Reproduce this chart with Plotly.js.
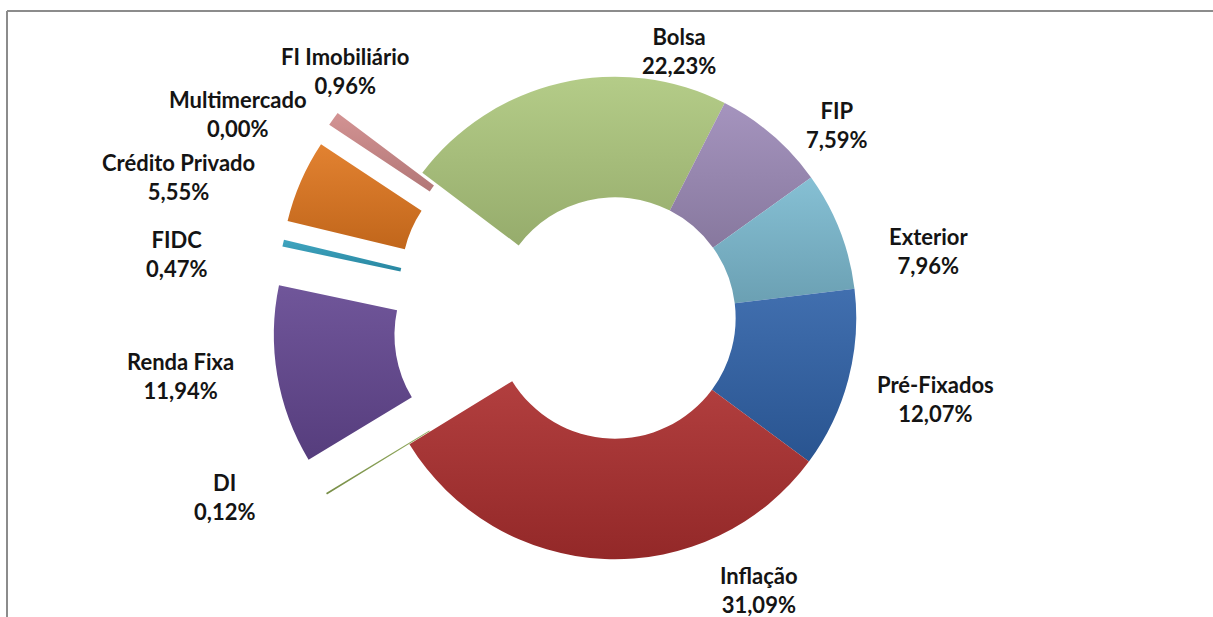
<!DOCTYPE html>
<html>
<head>
<meta charset="utf-8">
<script src="https://cdn.plot.ly/plotly-3.0.1.min.js"></script>
<style>
html,body{margin:0;padding:0;overflow:hidden;background:#fff;width:1213px;height:617px;}
#chart{position:absolute;left:0;top:-27px;width:1213px;height:690px;}
</style>
</head>
<body>
<div id="chart"></div>
<script>
// ---- data ----
const categories = ["Bolsa","FIP","Exterior","Pré-Fixados","Inflação","DI","Renda Fixa","FIDC","Crédito Privado","Multimercado","FI Imobiliário"];
const shares = [22.23, 7.59, 7.96, 12.07, 31.09, 0.12, 11.94, 0.47, 5.55, 0.00, 0.96];

// ---- styling / layout (not data) ----
const sliceColors = ["#AEC87E","#9D8BB8","#7CBAD0","#3062A8","#AB2E2E","#8BA552","#644791","#2F9DBB","#E0771F","#9BBB59","#CF8A8A"];
const explode = [0, 0, 0, 0, 0, 0.40, 0.42, 0.41, 0.42, 0.42, 0.43];
// label block centres in page pixels [x, y]
const labelPos = [[679,51],[836,125],[928,250.5],[935,399.5],[759,589.5],[225,496.5],[180,376.5],[176,253.5],[178,177],[238,114],[345,71]];

const W = 1213, H = 690, OFF = 27;
const cx = 615, half = H/2;

function fmt(v){ return v.toFixed(2).replace('.', ',') + '%'; }

const trace = {
  type: 'pie',
  labels: categories,
  values: shares,
  sort: false,
  direction: 'clockwise',
  rotation: -53,
  hole: 0.5,
  pull: explode,
  marker: {colors: sliceColors, line: {width: 0}},
  textinfo: 'none',
  hoverinfo: 'skip',
  showlegend: false,
  domain: {x: [(cx-half)/W, (cx+half)/W], y: [0, 1]}
};

const annotations = categories.map((c, i) => ({
  xref: 'paper', yref: 'paper',
  x: labelPos[i][0]/W,
  y: 1 - (labelPos[i][1] + OFF)/H,
  xanchor: 'center', yanchor: 'middle',
  text: '<b>' + c + '</b><br><b>' + fmt(shares[i]) + '</b>',
  showarrow: false,
  align: 'center',
  font: {family: 'Lato, "Open Sans", sans-serif', size: 22, color: '#141414'}
}));

const frameY = 1 - (11 + OFF)/H;
const layout = {
  width: W, height: H,
  margin: {l:0, r:0, t:0, b:0},
  paper_bgcolor: '#ffffff',
  showlegend: false,
  annotations: annotations,
  shapes: [
    {type:'line', xref:'paper', yref:'paper', x0: 7/W, x1: 1, y0: frameY, y1: frameY, line:{color:'#8c8c8c', width:2}},
    {type:'line', xref:'paper', yref:'paper', x0: 7/W, x1: 7/W, y0: 0, y1: frameY, line:{color:'#8c8c8c', width:2}}
  ]
};

function parseRGB(s){
  const m = s.match(/(\d+(\.\d+)?)/g);
  return m ? m.slice(0,3).map(Number) : null;
}
function mix(c, t, f){ return c.map((v,k)=>Math.round(v + (t[k]-v)*f)); }
function rgbStr(c){ return 'rgb(' + c.join(',') + ')'; }

Plotly.newPlot('chart', [trace], layout, {staticPlot: true, displayModeBar: false}).then(gd => {
  const svg = gd.querySelector('svg.main-svg');
  const NS = 'http://www.w3.org/2000/svg';
  let defs = svg.querySelector('defs');
  if (!defs) { defs = document.createElementNS(NS, 'defs'); svg.insertBefore(defs, svg.firstChild); }
  gd.querySelectorAll('g.slice path.surface').forEach((p, i) => {
    const base = parseRGB(p.style.fill || p.getAttribute('fill') || '');
    if (!base) return;
    const id = 'sliceGrad' + i;
    const g = document.createElementNS(NS, 'linearGradient');
    g.setAttribute('id', id);
    g.setAttribute('x1', '0'); g.setAttribute('y1', '0');
    g.setAttribute('x2', '0'); g.setAttribute('y2', '1');
    const s1 = document.createElementNS(NS, 'stop');
    s1.setAttribute('offset', '0'); s1.setAttribute('stop-color', rgbStr(mix(base, [255,255,255], 0.08)));
    const s2 = document.createElementNS(NS, 'stop');
    s2.setAttribute('offset', '1'); s2.setAttribute('stop-color', rgbStr(mix(base, [0,0,0], 0.14)));
    g.appendChild(s1); g.appendChild(s2);
    defs.appendChild(g);
    p.style.fill = 'url(#' + id + ')';
  });
});
</script>
</body>
</html>
